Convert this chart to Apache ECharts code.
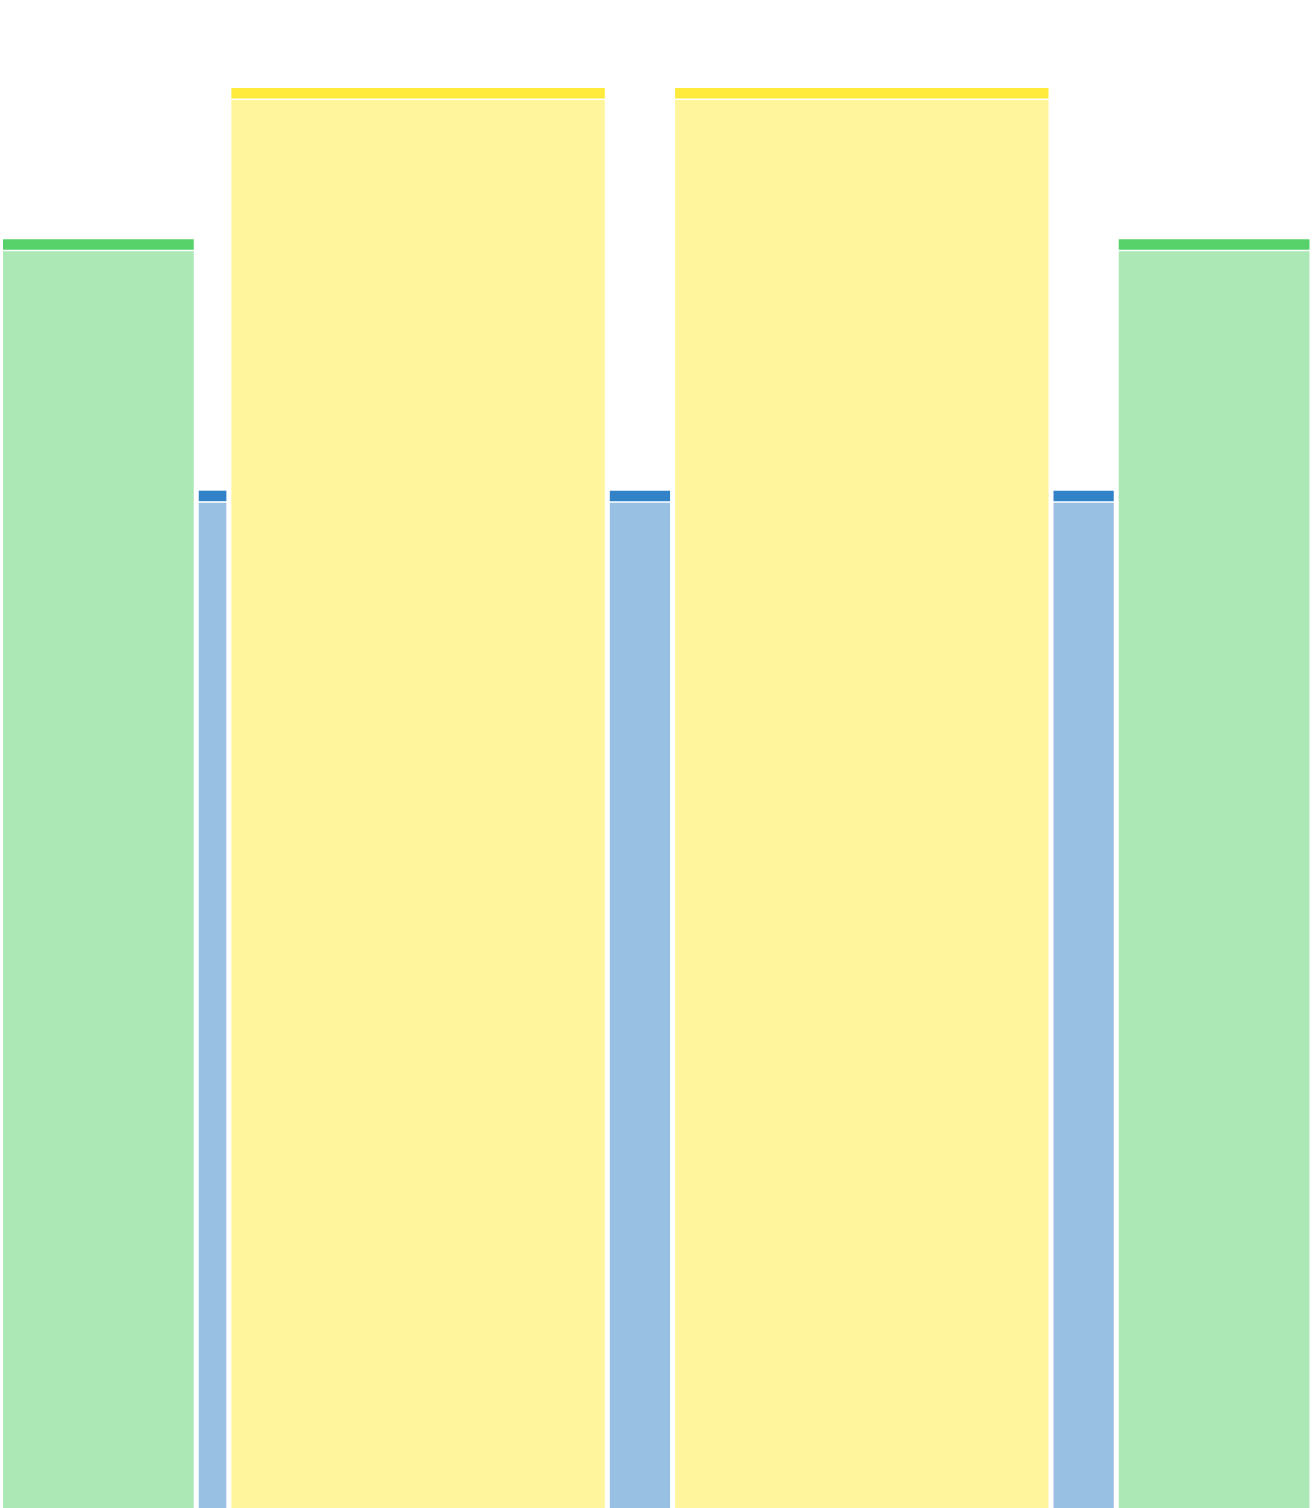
<!DOCTYPE html>
<html>
<head>
<meta charset="utf-8">
<script src="https://cdn.jsdelivr.net/npm/echarts@6/dist/echarts.min.js"></script>
<style>
html, body { margin: 0; padding: 0; background: #fff; }
#main { width: 1312px; height: 1508px; }
</style>
</head>
<body>
<div id="main"></div>
<script>
// bar edges along x (arbitrary units), one more than bars
var edges = [0, 3, 3.5, 9.3, 10.3, 16.1, 17.1, 20.1];
// bar heights
var values = [12.51, 10.03, 14, 10.03, 14, 10.03, 12.51];
// which group each bar belongs to
var kinds = ["green", "blue", "yellow", "blue", "yellow", "blue", "green"];

var palette = {
	green : "#57d26b",
	blue : "#3182c6",
	yellow : "#ffeb3b"
};

var myChart = echarts.init(document.getElementById("main"));

var barData = [];
for (var i = 0; i < values.length; i++) {
	barData.push([ edges[i], edges[i + 1], values[i], i ]);
}

function renderBar(params, api) {
	var p0 = api.coord([ api.value(0), api.value(2) ]);
	var p1 = api.coord([ api.value(1), 0 ]);
	var color = palette[kinds[api.value(3)]];
	var x = p0[0] + 2.5, w = p1[0] - p0[0] - 5;
	var top = p0[1], bottom = p1[1];
	return {
		type : "group",
		children : [ {
			type : "rect",
			shape : { x : x, y : top + 12, width : w, height : bottom - top - 12 },
			style : { fill : color, opacity : 0.5 }
		}, {
			type : "rect",
			shape : { x : x, y : top, width : w, height : 10.5 },
			style : { fill : color }
		} ]
	};
}

var option = {
	animation : false,
	grid : { left : 0.5, right : 0, top : 88, bottom : 0 },
	xAxis : { type : "value", min : 0, max : 20.1, show : false },
	yAxis : { type : "value", min : 0, max : 14, show : false },
	series : [ {
		type : "custom",
		renderItem : renderBar,
		encode : { x : [ 0, 1 ], y : 2 },
		data : barData
	} ]
};
myChart.setOption(option);
</script>
</body>
</html>
